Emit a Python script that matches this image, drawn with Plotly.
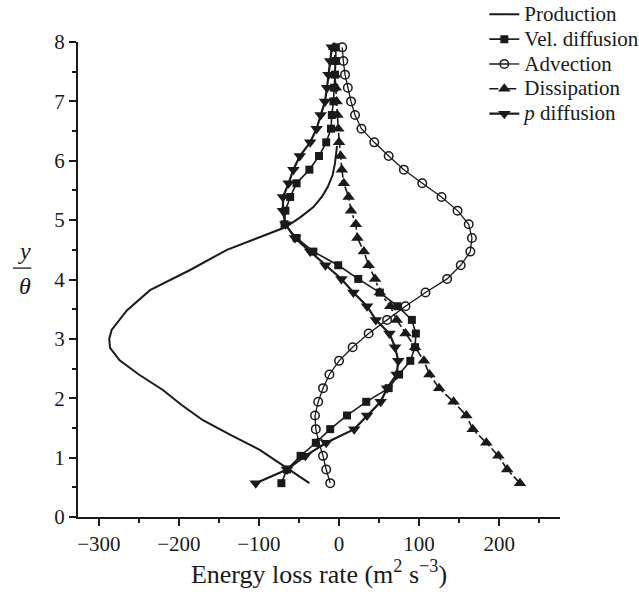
import plotly.graph_objects as go

# shared y/theta positions of the marker rows (bottom -> top)
y_pos = [0.57, 0.80, 1.03, 1.25, 1.48, 1.71, 1.94, 2.17, 2.40, 2.63, 2.86, 3.09, 3.32,
         3.55, 3.78, 4.01, 4.24, 4.47, 4.70, 4.93, 5.16, 5.39, 5.62, 5.85, 6.08, 6.31,
         6.54, 6.77, 7.00, 7.23, 7.45, 7.68, 7.91]

vel_diffusion = [-72, -65, -48, -29, -11, 10, 34, 62, 75, 89, 95, 96, 91,
                 73, 51, 24, -1, -32, -53, -68, -67, -61, -53, -37, -25, -16,
                 -10, -9, -7, -6, -5, -4, -4]

advection = [-11, -16, -20, -25, -29, -30, -26, -20, -12, 0, 17, 37, 60,
             83, 108, 135, 152, 164, 166, 162, 148, 128, 104, 81, 62, 44,
             28, 20, 15, 11, 7.5, 5.4, 4]

dissipation = [226, 210, 199, 184, 167, 159, 143, 125, 113, 106, 95, 83, 72,
               64, 51, 45, 37, 31, 23, 21, 15, 12, 6, 3.5, 2, 0,
               -1, -2, -3, -4, -5, -5, -6]

p_diffusion = [-104, -65, -42, -16, 19, 35, 52, 60, 72, 74, 70, 63, 46,
               35, 18, 3, -17, -36, -55, -67, -70, -70, -63, -57, -49, -36,
               -28, -23, -17.5, -15, -13, -11, -9]

# production curve (smooth line, own sampling)
prod_y = [0.57, 0.79, 1.13, 1.38, 1.63, 1.89, 2.14, 2.40, 2.64, 2.85, 3.00, 3.15, 3.48,
          3.82, 4.16, 4.50, 4.70, 4.88, 5.05, 5.22, 5.40, 5.56, 5.76, 5.96, 6.25]
prod_x = [-37, -61, -99, -135, -170, -197, -220, -250, -274, -286, -287, -284, -265,
          -236, -186, -140, -101, -67, -48, -32, -21, -14, -8, -5, -2.5]

names = ["Production", "Vel. diffusion", "Advection", "Dissipation", "<i>p</i> diffusion"]
x_ticks = [-300, -200, -100, 0, 100, 200]
x_ticklabels = ["\u2212300", "\u2212200", "\u2212100", "0", "100", "200"]

FONT = "Liberation Serif, Times New Roman, serif"
INK = "#1a1a1a"


def big(t):
    return '<span style="font-size:21px">' + t + '</span>'


fig = go.Figure()
fig.add_trace(go.Scatter(x=prod_x, y=prod_y, mode="lines", name=big(names[0]),
                         line=dict(color=INK, width=2)))
fig.add_trace(go.Scatter(x=vel_diffusion, y=y_pos, mode="lines+markers", name=big(names[1]),
                         line=dict(color=INK, width=1.6),
                         marker=dict(symbol="square", size=8, color=INK)))
fig.add_trace(go.Scatter(x=advection, y=y_pos, mode="lines+markers", name=big(names[2]),
                         line=dict(color=INK, width=1.3),
                         marker=dict(symbol="circle-open", size=8.5, color=INK,
                                     line=dict(width=1.5, color=INK))))
fig.add_trace(go.Scatter(x=dissipation, y=y_pos, mode="lines+markers", name=big(names[3]),
                         line=dict(color=INK, width=1.6, dash="dashdot"),
                         marker=dict(symbol="triangle-up", size=11, color=INK)))
fig.add_trace(go.Scatter(x=p_diffusion, y=y_pos, mode="lines+markers", name=big(names[4]),
                         line=dict(color=INK, width=2.2),
                         marker=dict(symbol="triangle-down", size=11, color=INK)))

fig.update_layout(
    width=639, height=597,
    margin=dict(l=78, r=79, t=42, b=80, autoexpand=False),
    paper_bgcolor="white", plot_bgcolor="white",
    font=dict(family=FONT, size=21, color=INK),
    showlegend=True,
    legend=dict(x=0.843, y=1.095, xanchor="left", yanchor="top",
                bgcolor="rgba(0,0,0,0)", font=dict(size=16.8, family=FONT, color=INK),
                tracegroupgap=0, itemwidth=30),
    xaxis=dict(range=[-326, 276], tickvals=x_ticks, ticktext=x_ticklabels,
               tickfont=dict(size=21),
               showgrid=False, zeroline=False, showline=True, linecolor=INK, linewidth=2,
               ticks="outside", ticklen=7, tickwidth=2, tickcolor=INK,
               minor=dict(dtick=50, tick0=0, ticks="outside", ticklen=4, tickwidth=1.5,
                          tickcolor=INK, showgrid=False),
               title=dict(text="Energy loss rate (m<sup>2</sup> s<sup>\u22123</sup>)",
                          standoff=8, font=dict(size=26, family=FONT, color=INK))),
    yaxis=dict(range=[0, 8], dtick=1, tick0=0, tickfont=dict(size=21),
               showgrid=False, zeroline=False, showline=True, linecolor=INK, linewidth=2,
               ticks="outside", ticklen=7, tickwidth=2, tickcolor=INK,
               minor=dict(dtick=0.5, tick0=0, ticks="outside", ticklen=4, tickwidth=1.5,
                          tickcolor=INK, showgrid=False)),
)

# stacked y/theta label
fig.add_annotation(x=-0.128, y=0.559, xref="paper", yref="paper", text="<i>y</i>",
                   showarrow=False, font=dict(size=24, family=FONT, color=INK))
fig.add_annotation(x=-0.126, y=0.486, xref="paper", yref="paper", text="<i>\u03b8</i>",
                   showarrow=False, font=dict(size=24, family=FONT, color=INK))
fig.add_shape(type="line", xref="paper", yref="paper", x0=-0.135, x1=-0.097,
              y0=0.524, y1=0.524, line=dict(color=INK, width=1.3))

fig.write_html("out.html")
